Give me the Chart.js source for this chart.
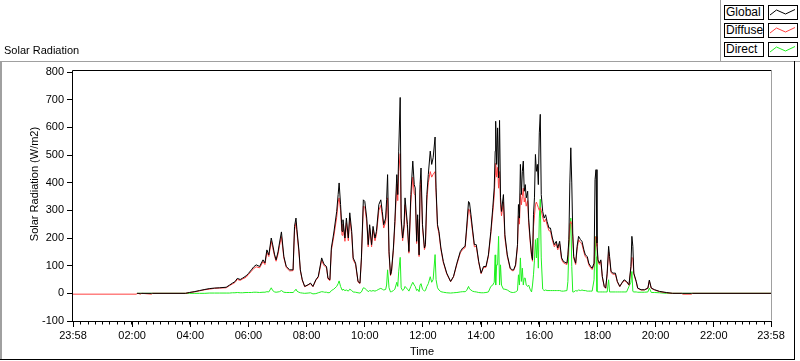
<!DOCTYPE html>
<html>
<head>
<meta charset="utf-8">
<script src="https://cdn.jsdelivr.net/npm/chart.js@4"></script>
<style>
html,body{margin:0;padding:0;background:#fff;}
#wrap{position:relative;width:800px;height:361px;overflow:hidden;font-family:'Liberation Sans',Arial,sans-serif;font-size:11px;color:#000;}
#c{position:absolute;left:0;top:0;}
.abs{position:absolute;}
.hl{position:absolute;height:1px;}
.vl{position:absolute;width:1px;}
.lb{position:absolute;left:724px;width:40px;height:15px;box-sizing:border-box;border:1px solid #000;background:#fff;font-size:12px;line-height:13px;padding-left:1px;white-space:nowrap;}
.sw{position:absolute;left:768px;width:30px;height:15px;box-sizing:border-box;border:1px solid #000;background:#fff;}
.sw svg{position:absolute;left:0;top:0;}
#ytitle{position:absolute;left:34px;top:184px;transform:translate(-50%,-50%) rotate(-90deg);white-space:nowrap;font-size:11px;}
</style>
</head>
<body>
<div id="wrap">
<canvas id="c" width="800" height="361"></canvas>
<!-- outer panel frame -->
<div class="hl" style="left:0;top:61px;width:800px;background:#a0a0a0;"></div>
<div class="vl" style="left:0;top:61px;height:299px;width:2px;background:#a0a0a0;"></div>
<div class="vl" style="left:794px;top:61px;height:299px;background:#000;"></div>
<div class="hl" style="left:0;top:359px;width:795px;background:#000;"></div>
<div class="vl" style="left:720px;top:0;height:61px;background:#a0a0a0;"></div>
<div class="abs" style="left:4px;top:44px;font-size:11px;">Solar Radiation</div>
<div id="ytitle">Solar Radiation (W/m2)</div>
<!-- legend -->
<div class="lb" style="top:5px;">Global</div>
<div class="sw" style="top:5px;"><svg width="28" height="13"><polyline points="1,9 7.5,4 16.5,8 26,3.5" fill="none" stroke="#000" stroke-width="1"/></svg></div>
<div class="lb" style="top:23px;">Diffuse</div>
<div class="sw" style="top:23px;"><svg width="28" height="13"><polyline points="1,9 7.5,4 16.5,8 26,3.5" fill="none" stroke="#ff4040" stroke-width="1"/></svg></div>
<div class="lb" style="top:42px;">Direct</div>
<div class="sw" style="top:42px;"><svg width="28" height="13"><polyline points="1,9 7.5,4 16.5,8 26,3.5" fill="none" stroke="#20f020" stroke-width="1"/></svg></div>
</div>
<script>
// time of day in minutes (the axis runs from 23:58 of the previous day to 23:58)
const timeMinutes = [
  -2,128,130,132,137,140,160,162,230,238,
  248,259,270,279,290,300,314,321,327,332,
  337,343,348,355,360,366,371,376,383,390,
  394,398,402,407,410,414,417,421,424,428,
  433,438,445,452,455,458,460,464,467,471,
  476,483,488,493,499,504,511,515,517,521,
  524,528,531,536,542,545,547,550,553,555,
  559,562,566,569,573,576,581,586,590,593,
  597,600,604,607,610,614,617,621,624,629,
  633,636,639,643,645,647,650,653,655,659,
  662,666,668,670,673,675,678,681,683,688,
  691,695,699,702,704,707,709,712,714,716,
  719,723,725,728,731,735,738,741,745,747,
  750,753,757,762,769,777,783,790,797,802,
  807,810,814,816,819,822,826,830,835,840,
  845,850,855,860,864,867,869,870,872,874,
  876,878,880,882,886,889,894,900,904,907,
  911,915,917,919,921,923,925,927,929,931,
  933,936,938,941,944,946,948,950,952,954,
  956,958,960,962,964,967,970,973,976,980,
  983,987,991,995,998,1002,1006,1010,1017,1019,
  1021,1023,1025,1027,1029,1031,1035,1038,1041,1045,
  1048,1052,1055,1059,1062,1066,1069,1073,1075,1077,
  1079,1081,1084,1087,1090,1094,1097,1100,1103,1105,
  1108,1112,1117,1121,1126,1130,1135,1140,1145,1149,
  1151,1153,1155,1160,1163,1170,1177,1184,1187,1191,
  1198,1208,1222,1235,1254,1256,1274,1276,1438
];
const globalWm2 = [
  null,null,0,0,0,0,0,0,0,3,
  6,10,14,17,19,20,22,30,37,42,
  54,50,55,63,72,85,96,103,97,121,
  110,157,139,200,175,139,121,150,182,222,
  133,97,85,85,242,272,230,157,85,49,
  25,31,37,25,49,61,128,109,103,97,
  55,49,164,218,296,357,399,321,224,266,
  200,272,200,291,224,128,109,43,37,128,
  338,332,272,176,248,176,242,200,224,321,
  338,296,248,272,338,429,150,67,79,164,
  260,429,357,514,708,272,200,248,345,248,
  151,357,478,393,381,188,284,139,393,453,
  248,164,176,357,429,514,466,490,565,381,
  248,224,164,115,73,43,61,109,151,164,
  170,236,332,327,284,236,176,176,115,73,
  97,97,139,224,309,381,514,622,466,598,
  417,625,345,296,357,212,139,91,85,85,
  103,176,321,272,466,357,441,478,369,393,
  345,369,272,200,139,121,284,345,502,441,
  466,393,580,647,357,296,272,284,260,236,
  236,200,176,188,164,188,128,115,109,139,
  194,399,526,399,218,133,109,170,206,194,
  188,157,139,133,109,97,91,109,411,447,
  182,121,109,121,61,25,19,73,170,133,
  79,73,73,43,25,37,49,43,31,97,
  206,170,73,43,19,13,13,19,48,19,
  13,7,3,0,0,0,0,0,0
];
const diffuseWm2 = [
  -3,-3,-3,0,-3,0,-3,0,0,3,
  5,9,13,15,18,19,20,28,34,39,
  50,47,52,58,68,80,90,96,92,115,
  104,148,133,188,165,133,116,142,172,205,
  128,93,81,82,228,255,218,150,82,47,
  24,30,35,24,47,58,120,103,98,93,
  52,46,155,205,275,330,345,300,210,250,
  188,255,190,272,212,122,104,41,35,121,
  315,312,258,168,235,168,230,190,212,300,
  318,280,236,258,310,345,140,64,75,155,
  245,395,335,440,505,255,190,235,320,235,
  145,330,420,360,355,180,268,133,365,410,
  238,158,170,335,400,440,420,430,440,365,
  240,216,158,111,70,42,59,105,146,159,
  165,225,305,302,268,226,168,170,111,71,
  94,94,134,214,292,352,430,470,420,455,
  380,440,320,280,330,200,133,88,82,82,
  99,168,280,250,360,320,350,380,330,345,
  315,335,255,190,133,116,240,280,320,330,
  320,310,300,310,300,275,258,268,248,226,
  225,192,168,180,157,178,122,110,104,132,
  185,250,260,250,205,127,104,160,194,183,
  178,149,132,126,103,92,86,103,200,205,
  170,115,104,115,58,24,18,69,150,125,
  75,69,69,41,24,35,46,41,29,90,
  130,125,69,41,18,12,12,18,44,18,
  12,6,2,0,0,-3,-3,0,0
];
const directWm2 = [
  null,null,0,0,0,0,0,0,0,0,
  0,0,0,1,1,1,1,1,2,2,
  3,2,2,3,3,3,4,4,3,4,
  4,6,5,20,10,5,4,5,6,10,
  4,3,3,3,8,15,8,4,2,1,
  0,1,2,-2,-1,2,6,5,4,4,
  2,3,10,15,25,35,45,25,12,15,
  10,12,8,15,10,5,4,2,1,5,
  20,18,12,6,10,8,10,8,10,15,
  18,15,12,14,30,85,20,5,6,10,
  15,40,25,80,130,20,10,15,25,15,
  8,25,40,30,25,10,15,6,30,35,
  15,8,10,25,35,60,40,50,140,50,
  20,12,6,4,2,1,2,3,5,6,
  6,10,25,16,12,8,6,5,3,2,
  2,3,5,25,30,40,139,30,103,103,
  206,30,103,30,15,15,12,5,3,3,
  5,10,67,30,128,43,91,30,55,55,
  30,25,30,15,5,30,67,120,194,128,
  200,91,272,340,128,15,10,12,10,10,
  10,10,10,10,10,10,8,8,10,43,
  164,218,272,97,5,5,10,8,12,10,
  12,10,10,8,8,8,8,49,206,133,
  7,5,5,5,5,5,5,5,49,5,
  5,5,5,5,5,5,5,5,25,40,
  79,7,5,5,4,4,4,5,19,3,
  3,2,0,0,0,0,0,0,0
];
const xTickValues = [-2,120,240,360,480,600,720,840,960,1080,1200,1320,1438];
const xTickLabels = ['23:58','02:00','04:00','06:00','08:00','10:00','12:00','14:00','16:00','18:00','20:00','22:00','23:58'];
const yTickValues = [-100,0,100,200,300,400,500,600,700,800];
const seriesNames = ['Global','Diffuse','Direct'];
const seriesColors = ['#000000','#ff4040','#20f020'];

const minorTickValues = [];
for (let v = xTickValues[0]; v <= xTickValues[xTickValues.length-1]; v += 15) minorTickValues.push(v);

const framePlugin = {
  id: 'frame',
  afterDraw(chart) {
    const {ctx, chartArea: a} = chart;
    const xs = chart.scales.x;
    ctx.save();
    ctx.lineWidth = 1;
    ctx.strokeStyle = '#000';
    ctx.beginPath();
    for (const v of minorTickValues) {
      const px = Math.round(xs.getPixelForValue(v)) + 0.5;
      ctx.moveTo(px, a.bottom);
      ctx.lineTo(px, a.bottom + 3.5);
    }
    ctx.stroke();
    const L = Math.round(a.left) - 0.5, T = Math.round(a.top) - 1.5,
          R = Math.round(a.right) + 0.5, B = Math.round(a.bottom) + 0.5;
    ctx.beginPath();
    ctx.moveTo(L, B); ctx.lineTo(L, T); ctx.lineTo(R, T);
    ctx.moveTo(L, B); ctx.lineTo(R, B);
    ctx.stroke();
    ctx.strokeStyle = '#a0a0a0';
    ctx.beginPath(); ctx.moveTo(R, T); ctx.lineTo(R, B - 1); ctx.stroke();
    ctx.restore();
  }
};

Chart.defaults.font.family = "'Liberation Sans', Arial, sans-serif";
Chart.defaults.font.size = 11;
Chart.defaults.color = '#000';

const toPoints = arr => timeMinutes.map((t, i) => ({x: t, y: arr[i]}));
const seriesValues = [globalWm2, diffuseWm2, directWm2];

new Chart(document.getElementById('c'), {
  type: 'line',
  data: {
    datasets: seriesNames.map((name, i) => ({
      label: name,
      data: toPoints(seriesValues[i]),
      borderColor: seriesColors[i],
      backgroundColor: seriesColors[i],
      borderWidth: 1,
      pointRadius: 0,
      fill: false,
      tension: 0,
      order: i
    }))
  },
  options: {
    responsive: false,
    animation: false,
    devicePixelRatio: 1,
    layout: {padding: {top: 72, right: 29, bottom: 0, left: 0}},
    plugins: {legend: {display: false}, tooltip: {enabled: false}},
    scales: {
      x: {
        type: 'linear',
        min: xTickValues[0],
        max: xTickValues[xTickValues.length - 1],
        afterBuildTicks: s => { s.ticks = xTickValues.map(v => ({value: v})); },
        afterFit: s => { s.height = 40; },
        ticks: {autoSkip: false, maxRotation: 0, minRotation: 0, padding: 2,
          callback: (v, i) => xTickLabels[i]},
        grid: {drawOnChartArea: false, drawTicks: true, tickLength: 6, color: '#000'},
        border: {display: false},
        title: {display: true, text: 'Time', padding: {top: 0, bottom: 2}, font: {size: 11}}
      },
      y: {
        type: 'linear',
        min: yTickValues[0],
        max: yTickValues[yTickValues.length - 1],
        afterBuildTicks: s => { s.ticks = yTickValues.map(v => ({value: v})); },
        afterFit: s => { s.width = 73; },
        ticks: {padding: 3},
        grid: {drawOnChartArea: false, drawTicks: true, tickLength: 6, color: '#000'},
        border: {display: false}
      }
    }
  },
  plugins: [framePlugin]
});
</script>
</body>
</html>
